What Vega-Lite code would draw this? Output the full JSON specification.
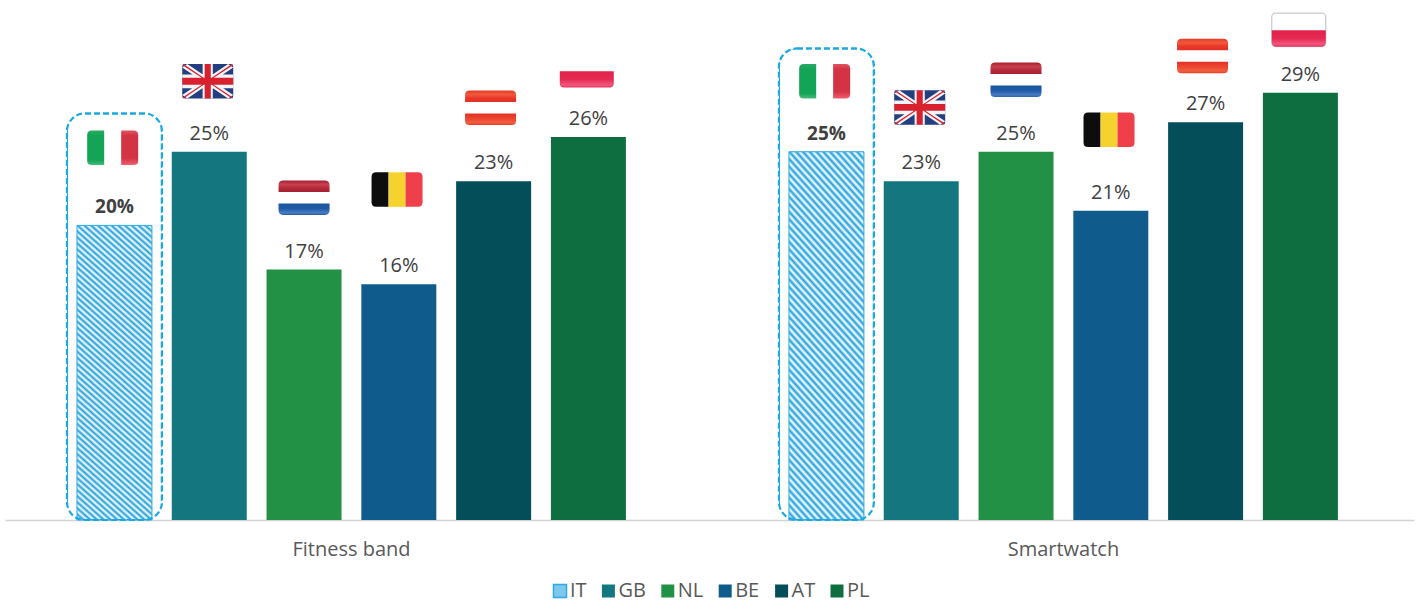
{
"$schema":"https://vega.github.io/schema/vega-lite/v6.json",
"width":1409,"height":520,
"padding":{"left":5,"top":0,"right":2,"bottom":83},
"autosize":"none",
"background":"white",
"config":{"view":{"stroke":null},"font":"Open Sans"},
"data":{"values":[
{"product":"Fitness band","country":"IT","value":0.20,"flagLevel":0.2527,"frameLevel":0.2761},
{"product":"Fitness band","country":"GB","value":0.25,"flagLevel":0.2978},
{"product":"Fitness band","country":"NL","value":0.17,"flagLevel":0.2188},
{"product":"Fitness band","country":"BE","value":0.16,"flagLevel":0.2243},
{"product":"Fitness band","country":"AT","value":0.23,"flagLevel":0.2798},
{"product":"Fitness band","country":"PL","value":0.26,"flagLevel":0.3049},
{"product":"Smartwatch","country":"IT","value":0.25,"flagLevel":0.2978,"frameLevel":0.3201},
{"product":"Smartwatch","country":"GB","value":0.23,"flagLevel":0.2801},
{"product":"Smartwatch","country":"NL","value":0.25,"flagLevel":0.2988},
{"product":"Smartwatch","country":"BE","value":0.21,"flagLevel":0.2649},
{"product":"Smartwatch","country":"AT","value":0.27,"flagLevel":0.3150},
{"product":"Smartwatch","country":"PL","value":0.29,"flagLevel":0.3327}
]},
"encoding":{
"x":{"field":"product","type":"nominal","title":null,"sort":["Fitness band","Smartwatch"],
 "scale":{"paddingInner":0.229,"paddingOuter":0.104,"align":0.486},
 "axis":{"labelAngle":0,"ticks":false,"domainColor":"#d4d4d4","domainWidth":1.5,"labelFontSize":20,"labelColor":"#595959","labelPadding":19,"labelFont":"Open Sans"}},
"xOffset":{"field":"country","type":"nominal","sort":["IT","GB","NL","BE","AT","PL"],
 "scale":{"domain":["IT","GB","NL","BE","AT","PL"],"paddingInner":0.209,"paddingOuter":0}}
},
"layer":[
{"mark":{"type":"bar","stroke":"#2fa9e0","strokeWidth":1,"fill":
 {"gradient":"linear","x1":0,"y1":1,"x2":0.2635,"y2":-0.1665,"stops":[
 {"offset":0,"color":"#1f9fdc"},{"offset":0.0083,"color":"#fff"},{"offset":0.0167,"color":"#1f9fdc"},{"offset":0.025,"color":"#fff"},{"offset":0.0333,"color":"#1f9fdc"},{"offset":0.0417,"color":"#fff"},{"offset":0.05,"color":"#1f9fdc"},{"offset":0.0583,"color":"#fff"},{"offset":0.0667,"color":"#1f9fdc"},{"offset":0.075,"color":"#fff"},{"offset":0.0833,"color":"#1f9fdc"},{"offset":0.0917,"color":"#fff"},
 {"offset":0.1,"color":"#1f9fdc"},{"offset":0.1083,"color":"#fff"},{"offset":0.1167,"color":"#1f9fdc"},{"offset":0.125,"color":"#fff"},{"offset":0.1333,"color":"#1f9fdc"},{"offset":0.1417,"color":"#fff"},{"offset":0.15,"color":"#1f9fdc"},{"offset":0.1583,"color":"#fff"},{"offset":0.1667,"color":"#1f9fdc"},{"offset":0.175,"color":"#fff"},{"offset":0.1833,"color":"#1f9fdc"},{"offset":0.1917,"color":"#fff"},
 {"offset":0.2,"color":"#1f9fdc"},{"offset":0.2083,"color":"#fff"},{"offset":0.2167,"color":"#1f9fdc"},{"offset":0.225,"color":"#fff"},{"offset":0.2333,"color":"#1f9fdc"},{"offset":0.2417,"color":"#fff"},{"offset":0.25,"color":"#1f9fdc"},{"offset":0.2583,"color":"#fff"},{"offset":0.2667,"color":"#1f9fdc"},{"offset":0.275,"color":"#fff"},{"offset":0.2833,"color":"#1f9fdc"},{"offset":0.2917,"color":"#fff"},
 {"offset":0.3,"color":"#1f9fdc"},{"offset":0.3083,"color":"#fff"},{"offset":0.3167,"color":"#1f9fdc"},{"offset":0.325,"color":"#fff"},{"offset":0.3333,"color":"#1f9fdc"},{"offset":0.3417,"color":"#fff"},{"offset":0.35,"color":"#1f9fdc"},{"offset":0.3583,"color":"#fff"},{"offset":0.3667,"color":"#1f9fdc"},{"offset":0.375,"color":"#fff"},{"offset":0.3833,"color":"#1f9fdc"},{"offset":0.3917,"color":"#fff"},
 {"offset":0.4,"color":"#1f9fdc"},{"offset":0.4083,"color":"#fff"},{"offset":0.4167,"color":"#1f9fdc"},{"offset":0.425,"color":"#fff"},{"offset":0.4333,"color":"#1f9fdc"},{"offset":0.4417,"color":"#fff"},{"offset":0.45,"color":"#1f9fdc"},{"offset":0.4583,"color":"#fff"},{"offset":0.4667,"color":"#1f9fdc"},{"offset":0.475,"color":"#fff"},{"offset":0.4833,"color":"#1f9fdc"},{"offset":0.4917,"color":"#fff"},
 {"offset":0.5,"color":"#1f9fdc"},{"offset":0.5083,"color":"#fff"},{"offset":0.5167,"color":"#1f9fdc"},{"offset":0.525,"color":"#fff"},{"offset":0.5333,"color":"#1f9fdc"},{"offset":0.5417,"color":"#fff"},{"offset":0.55,"color":"#1f9fdc"},{"offset":0.5583,"color":"#fff"},{"offset":0.5667,"color":"#1f9fdc"},{"offset":0.575,"color":"#fff"},{"offset":0.5833,"color":"#1f9fdc"},{"offset":0.5917,"color":"#fff"},
 {"offset":0.6,"color":"#1f9fdc"},{"offset":0.6083,"color":"#fff"},{"offset":0.6167,"color":"#1f9fdc"},{"offset":0.625,"color":"#fff"},{"offset":0.6333,"color":"#1f9fdc"},{"offset":0.6417,"color":"#fff"},{"offset":0.65,"color":"#1f9fdc"},{"offset":0.6583,"color":"#fff"},{"offset":0.6667,"color":"#1f9fdc"},{"offset":0.675,"color":"#fff"},{"offset":0.6833,"color":"#1f9fdc"},{"offset":0.6917,"color":"#fff"},
 {"offset":0.7,"color":"#1f9fdc"},{"offset":0.7083,"color":"#fff"},{"offset":0.7167,"color":"#1f9fdc"},{"offset":0.725,"color":"#fff"},{"offset":0.7333,"color":"#1f9fdc"},{"offset":0.7417,"color":"#fff"},{"offset":0.75,"color":"#1f9fdc"},{"offset":0.7583,"color":"#fff"},{"offset":0.7667,"color":"#1f9fdc"},{"offset":0.775,"color":"#fff"},{"offset":0.7833,"color":"#1f9fdc"},{"offset":0.7917,"color":"#fff"},
 {"offset":0.8,"color":"#1f9fdc"},{"offset":0.8083,"color":"#fff"},{"offset":0.8167,"color":"#1f9fdc"},{"offset":0.825,"color":"#fff"},{"offset":0.8333,"color":"#1f9fdc"},{"offset":0.8417,"color":"#fff"},{"offset":0.85,"color":"#1f9fdc"},{"offset":0.8583,"color":"#fff"},{"offset":0.8667,"color":"#1f9fdc"},{"offset":0.875,"color":"#fff"},{"offset":0.8833,"color":"#1f9fdc"},{"offset":0.8917,"color":"#fff"},
 {"offset":0.9,"color":"#1f9fdc"},{"offset":0.9083,"color":"#fff"},{"offset":0.9167,"color":"#1f9fdc"},{"offset":0.925,"color":"#fff"},{"offset":0.9333,"color":"#1f9fdc"},{"offset":0.9417,"color":"#fff"},{"offset":0.95,"color":"#1f9fdc"},{"offset":0.9583,"color":"#fff"},{"offset":0.9667,"color":"#1f9fdc"},{"offset":0.975,"color":"#fff"},{"offset":0.9833,"color":"#1f9fdc"},{"offset":0.9917,"color":"#fff"},{"offset":1,"color":"#1f9fdc"}
 ]}},
 "transform":[{"filter":"datum.country==='IT'"}],
 "encoding":{"y":{"field":"value","type":"quantitative","title":null,"scale":{"domain":[0,0.353],"nice":false},"axis":null}}
},
{"mark":{"type":"bar"},
 "transform":[{"filter":"datum.country!=='IT'"}],
 "encoding":{"y":{"field":"value","type":"quantitative","scale":{"domain":[0,0.353],"nice":false},"axis":null},
 "color":{"field":"country","type":"nominal","scale":{"domain":["IT","GB","NL","BE","AT","PL"],"range":["#7cc8ee","#14777f","#229145","#0f5b8c","#034e59","#0e6e40"]},
 "legend":{"title":null,"orient":"none","legendX":545,"legendY":581,"direction":"horizontal","columns":6,"symbolType":"square","symbolSize":169,"symbolStrokeWidth":0,"labelFontSize":20,"labelColor":"#595959","labelFont":"Open Sans","labelOffset":0,"columnPadding":11.4,
 "encoding":{"symbols":{
 "fill":{"value":{"signal":"datum.value==='IT' ? {gradient:'linear',x1:0,y1:0,x2:1,y2:1,stops:[{offset:0,color:'#fff'},{offset:0.2,color:'#fff'},{offset:0.2,color:'#7cc8ee'},{offset:0.35,color:'#7cc8ee'},{offset:0.35,color:'#fff'},{offset:0.65,color:'#fff'},{offset:0.65,color:'#7cc8ee'},{offset:0.8,color:'#7cc8ee'},{offset:0.8,color:'#fff'},{offset:1,color:'#fff'}]} : scale('color',datum.value)"}},
 "stroke":{"value":{"signal":"datum.value==='IT' ? '#2fa9e0' : 'transparent'"}},
 "strokeWidth":{"value":1.5}}}}}}
},
{"mark":{"type":"bar","fill":null,"stroke":"#1ba9e1","strokeWidth":2.2,"strokeDash":[6,3],"cornerRadius":18,"width":95},
 "transform":[{"filter":"isValid(datum.frameLevel)"}],
 "encoding":{"y":{"field":"frameLevel","type":"quantitative","scale":{"domain":[0,0.353],"nice":false},"axis":null}}
},
{"mark":{"type":"text","baseline":"alphabetic","dy":-12,"fontSize":20,"color":"#404040"},
 "transform":[{"filter":"datum.country!=='IT'"}],
 "encoding":{"y":{"field":"value","type":"quantitative","scale":{"domain":[0,0.353],"nice":false},"axis":null},"text":{"field":"value","type":"quantitative","format":".0%"}}
},
{"mark":{"type":"text","baseline":"alphabetic","dy":-12,"fontSize":19,"fontWeight":"bold","color":"#404040"},
 "transform":[{"filter":"datum.country==='IT'"}],
 "encoding":{"y":{"field":"value","type":"quantitative","scale":{"domain":[0,0.353],"nice":false},"axis":null},"text":{"field":"value","type":"quantitative","format":".0%"}}
},
{"transform":[{"filter":"datum.country==='IT'"}],
 "encoding":{"y":{"field":"flagLevel","type":"quantitative","scale":{"domain":[0,0.353],"nice":false},"axis":null}},
 "layer":[
 {"mark":{"type":"point","filled":true,"opacity":1,"size":2601,"shape":"M-0.403,-0.676L-0.89,-0.676Q-1.07,-0.676,-1.07,-0.496L-1.07,0.496Q-1.07,0.676,-0.89,0.676L-0.403,0.676Z","fill":{"gradient":"linear","x1":0,"y1":0,"x2":0,"y2":1,"stops":[{"offset":0,"color":"#2aa866"},{"offset":0.15,"color":"#13a457"},{"offset":0.85,"color":"#13a457"},{"offset":1,"color":"#45bb7c"}]}}},
 {"mark":{"type":"point","filled":true,"opacity":1,"size":2601,"shape":"M0.263,-0.676L0.75,-0.676Q0.93,-0.676,0.93,-0.496L0.93,0.496Q0.93,0.676,0.75,0.676L0.263,0.676Z","fill":{"gradient":"linear","x1":0,"y1":0,"x2":0,"y2":1,"stops":[{"offset":0,"color":"#e0525f"},{"offset":0.15,"color":"#d43345"},{"offset":0.8,"color":"#d43345"},{"offset":1,"color":"#ef5f70"}]}}}
 ]
},
{"transform":[{"filter":"datum.country==='GB'"}],
 "encoding":{"y":{"field":"flagLevel","type":"quantitative","scale":{"domain":[0,0.353],"nice":false},"axis":null}},
 "layer":[
 {"mark":{"type":"point","filled":true,"opacity":1,"size":2601,"fill":"#233f7f","shape":"M-0.94,-0.676L0.82,-0.676Q0.94,-0.676,0.94,-0.556L0.94,0.556Q0.94,0.676,0.82,0.676L-0.94,0.676Q-1.06,0.676,-1.06,0.556L-1.06,-0.556Q-1.06,-0.676,-0.94,-0.676Z"}},
 {"mark":{"type":"point","filled":true,"opacity":1,"size":2601,"fill":"#f4f4f6","shape":"M-1.06,-0.54L-0.86,-0.676L0.94,0.54L0.74,0.676ZM-0.86,0.676L-1.06,0.54L0.74,-0.676L0.94,-0.54ZM-0.26,-0.676L0.14,-0.676L0.14,-0.27L0.94,-0.27L0.94,0.27L0.14,0.27L0.14,0.676L-0.26,0.676L-0.26,0.27L-1.06,0.27L-1.06,-0.27L-0.26,-0.27Z"}},
 {"mark":{"type":"point","filled":true,"opacity":1,"size":2601,"fill":"#d8212f","shape":"M-1.06,-0.64L-1.01,-0.676L-0.06,-0.03L-0.13,-0.03ZM0.94,0.64L0.89,0.676L-0.06,0.03L0.01,0.03ZM0.04,-0.05L-0.03,-0.05L0.89,-0.676L0.94,-0.64ZM-0.16,0.05L-0.09,0.05L-1.01,0.676L-1.06,0.64ZM-0.18,-0.676L0.06,-0.676L0.06,-0.135L0.94,-0.135L0.94,0.135L0.06,0.135L0.06,0.676L-0.18,0.676L-0.18,0.135L-1.06,0.135L-1.06,-0.135L-0.18,-0.135Z"}}
 ]
},
{"transform":[{"filter":"datum.country==='NL'"}],
 "encoding":{"y":{"field":"flagLevel","type":"quantitative","scale":{"domain":[0,0.353],"nice":false},"axis":null}},
 "layer":[
 {"mark":{"type":"point","filled":true,"opacity":1,"size":2601,"shape":"M-1,-0.225L-1,-0.496Q-1,-0.676,-0.82,-0.676L0.82,-0.676Q1,-0.676,1,-0.496L1,-0.225Z","fill":{"gradient":"linear","x1":0,"y1":0,"x2":0,"y2":1,"stops":[{"offset":0,"color":"#a91f32"},{"offset":0.35,"color":"#c9404f"},{"offset":0.7,"color":"#b0283a"},{"offset":1,"color":"#a91f32"}]}}},
 {"mark":{"type":"point","filled":true,"opacity":1,"size":2601,"shape":"M-1,0.225L1,0.225L1,0.496Q1,0.676,0.82,0.676L-0.82,0.676Q-1,0.676,-1,0.496Z","fill":{"gradient":"linear","x1":0,"y1":0,"x2":0,"y2":1,"stops":[{"offset":0,"color":"#1b55a0"},{"offset":0.45,"color":"#1f5aa6"},{"offset":0.8,"color":"#4a7bc0"},{"offset":1,"color":"#2a60a8"}]}}}
 ]
},
{"transform":[{"filter":"datum.country==='BE'"}],
 "encoding":{"y":{"field":"flagLevel","type":"quantitative","scale":{"domain":[0,0.353],"nice":false},"axis":null}},
 "layer":[
 {"mark":{"type":"point","filled":true,"opacity":1,"size":2601,"fill":"#0d0d0d","shape":"M-0.403,-0.676L-0.89,-0.676Q-1.07,-0.676,-1.07,-0.496L-1.07,0.496Q-1.07,0.676,-0.89,0.676L-0.403,0.676Z"}},
 {"mark":{"type":"point","filled":true,"opacity":1,"size":2601,"fill":"#f6d22e","shape":"M-0.403,-0.676L0.263,-0.676L0.263,0.676L-0.403,0.676Z"}},
 {"mark":{"type":"point","filled":true,"opacity":1,"size":2601,"fill":"#ef3f4a","shape":"M0.263,-0.676L0.75,-0.676Q0.93,-0.676,0.93,-0.496L0.93,0.496Q0.93,0.676,0.75,0.676L0.263,0.676Z"}}
 ]
},
{"transform":[{"filter":"datum.country==='AT'"}],
 "encoding":{"y":{"field":"flagLevel","type":"quantitative","scale":{"domain":[0,0.353],"nice":false},"axis":null}},
 "layer":[
 {"mark":{"type":"point","filled":true,"opacity":1,"size":2601,"shape":"M-1.12,-0.225L-1.12,-0.496Q-1.12,-0.676,-0.94,-0.676L0.7,-0.676Q0.88,-0.676,0.88,-0.496L0.88,-0.225Z","fill":{"gradient":"linear","x1":0,"y1":0,"x2":0,"y2":1,"stops":[{"offset":0,"color":"#e8382a"},{"offset":0.35,"color":"#f15a3b"},{"offset":0.65,"color":"#e8382a"},{"offset":1,"color":"#e42f25"}]}}},
 {"mark":{"type":"point","filled":true,"opacity":1,"size":2601,"shape":"M-1.12,0.225L0.88,0.225L0.88,0.496Q0.88,0.676,0.7,0.676L-0.94,0.676Q-1.12,0.676,-1.12,0.496Z","fill":{"gradient":"linear","x1":0,"y1":0,"x2":0,"y2":1,"stops":[{"offset":0,"color":"#e42f25"},{"offset":0.45,"color":"#ec4630"},{"offset":0.8,"color":"#f15f3f"},{"offset":1,"color":"#e8382a"}]}}}
 ]
},
{"transform":[{"filter":"datum.country==='PL'"}],
 "encoding":{"y":{"field":"flagLevel","type":"quantitative","scale":{"domain":[0,0.353],"nice":false},"axis":null}},
 "layer":[
 {"transform":[{"filter":"datum.product==='Smartwatch'"}],"mark":{"type":"point","filled":true,"opacity":1,"size":2916,"fill":"#ffffff","stroke":"#bdbdbd","strokeWidth":1,"shape":"M-0.91,-0.62L0.79,-0.62Q0.94,-0.62,0.94,-0.47L0.94,0.47Q0.94,0.62,0.79,0.62L-0.91,0.62Q-1.06,0.62,-1.06,0.47L-1.06,-0.47Q-1.06,-0.62,-0.91,-0.62Z"}},
 {"mark":{"type":"point","filled":true,"opacity":1,"size":2916,"shape":"M-1.06,0.01L0.94,0.01L0.94,0.47Q0.94,0.62,0.79,0.62L-0.91,0.62Q-1.06,0.62,-1.06,0.47Z","fill":{"gradient":"linear","x1":0,"y1":0,"x2":0,"y2":1,"stops":[{"offset":0,"color":"#e22249"},{"offset":0.5,"color":"#e52a52"},{"offset":0.85,"color":"#f0587f"},{"offset":1,"color":"#e8305a"}]}}}
 ]
}
]
}
